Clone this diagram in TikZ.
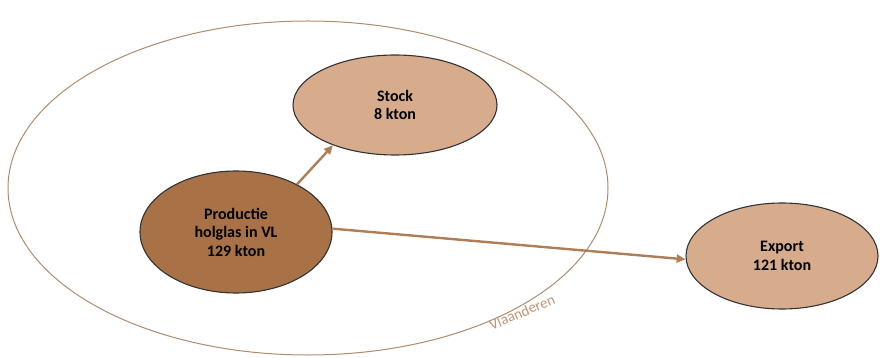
\documentclass[tikz,border=0pt]{standalone}
\usepackage{fontspec}
\setmainfont{Carlito}
\usetikzlibrary{shapes.geometric,arrows.meta}
\definecolor{darkfill}{RGB}{168,113,70}
\definecolor{lightfill}{RGB}{214,172,140}
\definecolor{flowcol}{RGB}{176,126,86}
\definecolor{regioncol}{RGB}{176,140,110}
\definecolor{labelcol}{RGB}{190,150,115}
\tikzset{
  blob/.style={ellipse, draw=black!80, line width=1.1pt, inner sep=0pt, align=center, font=\bfseries\fontsize{16}{18.5}\selectfont},
  flow/.style={draw=flowcol, line width=2.4pt, -{Triangle[length=9pt,width=8pt]}},
}
\begin{document}
\begin{tikzpicture}[x=1pt,y=-1pt]
\useasboundingbox[fill=white] (0,0) rectangle (880,358);
\node[ellipse, draw=regioncol, line width=1pt, minimum width=600pt, minimum height=334pt, inner sep=0pt] (vl) at (308,188) {};
\node[blob, fill=lightfill, minimum width=204pt, minimum height=100pt] (stock) at (395,105) {Stock\\8 kton};
\node[blob, fill=darkfill, minimum width=192pt, minimum height=122pt] (prod) at (236,232) {Productie\\holglas in VL\\129 kton};
\node[blob, fill=lightfill, minimum width=192pt, minimum height=106pt] (exp) at (782,256) {Export\\121 kton};
\draw[flow] (prod.38) -- (stock.213);
\draw[flow] (prod.2) -- (exp.182);
\node[text=labelcol, rotate=23, inner sep=0pt, font=\fontsize{15}{17}\selectfont] (vltext) at (522,312) {Vlaanderen};
\end{tikzpicture}
\end{document}
